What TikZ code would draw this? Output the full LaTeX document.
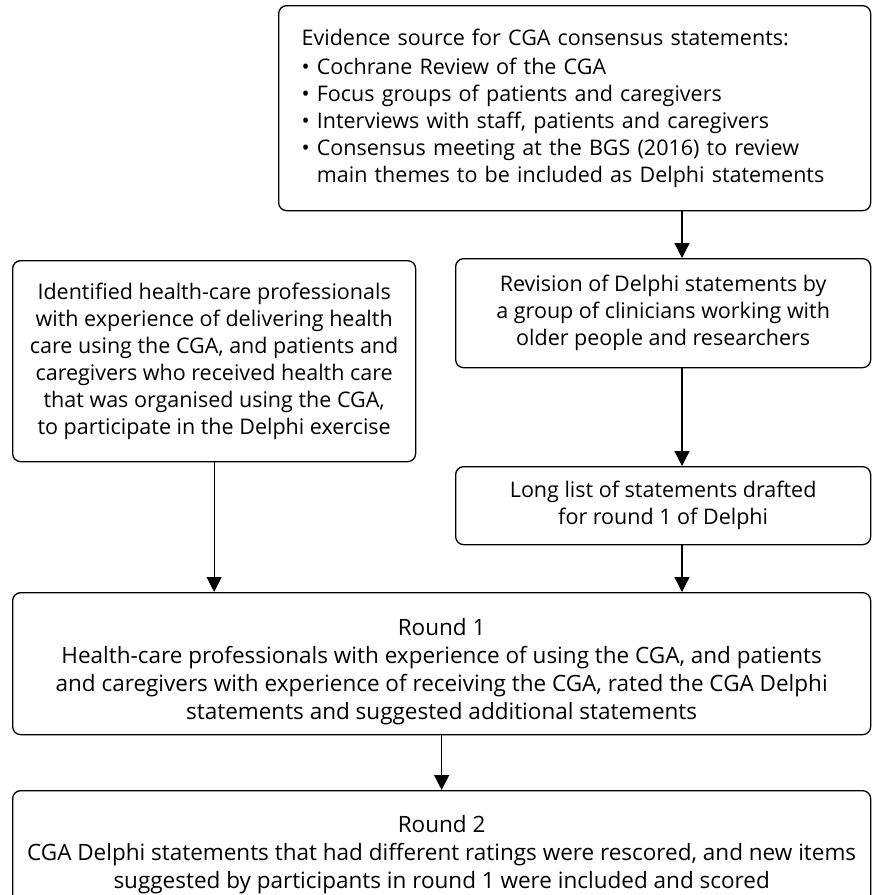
\documentclass[tikz,border=0pt]{standalone}
\usepackage{fontspec}
\setmainfont{Open Sans}
\usetikzlibrary{arrows.meta}
\begin{document}
\begin{tikzpicture}[x=1pt,y=-1pt,
  box/.style={draw,line width=1.3pt,rounded corners=8pt,anchor=north west,
    inner sep=0pt,font=\fontsize{21.5}{27}\selectfont},
  roundbox/.style={box,minimum width=858,align=center,font=\fontsize{22.5}{28}\selectfont},
  arr/.style={line width=1.3pt,-{Triangle[width=15pt,length=15pt]}}]
\clip (0,0) rectangle (872,895);
\node[box,minimum width=592,minimum height=205,text width=546,align=left] (src) at (278,5)
 {Evidence source for CGA consensus statements:\\[2pt]
  \textbullet\ Cochrane Review of the CGA\\
  \textbullet\ Focus groups of patients and caregivers\\
  \textbullet\ Interviews with staff, patients and caregivers\\
  \textbullet\ Consensus meeting at the BGS (2016) to review\\
  \phantom{\textbullet\ }main themes to be included as Delphi statements};
\node[box,minimum width=415,minimum height=109,align=center] (rev) at (455,258)
 {Revision of Delphi statements by\\ a group of clinicians working with\\ older people and researchers};
\node[box,minimum width=403,minimum height=201,align=center] (idp) at (12,260)
 {Identified health-care professionals\\ with experience of delivering health\\ care using the CGA, and patients and\\
  caregivers who received health care\\ that was organised using the CGA,\\ to participate in the Delphi exercise};
\node[box,minimum width=415,minimum height=78,align=center] (long) at (455,466)
 {Long list of statements drafted\\ for round 1 of Delphi};
\node[roundbox,minimum height=142] (rnd1) at (12,592)
 {\rule{0pt}{34pt}Round 1\\
  Health-care professionals with experience of using the CGA, and patients\\
  and caregivers with experience of receiving the CGA, rated the CGA Delphi\\
  statements and suggested additional statements};
\node[roundbox,minimum height=128] (rnd2) at (12,790)
 {Round 2\\
  CGA Delphi statements that had different ratings were rescored, and new items\\
  suggested by participants in round 1 were included and scored};
\coordinate (rx) at (682,0);
\draw[arr] (rx |- src.south) -- (rx |- rev.north);
\draw[arr] (rx |- rev.south) -- (rx |- long.north);
\draw[arr] (rx |- long.south) -- (rx |- rnd1.north);
\draw[arr] (idp.south) -- (idp.south |- rnd1.north);
\draw[arr] (rnd1.south) -- (rnd2.north);
\end{tikzpicture}
\end{document}
